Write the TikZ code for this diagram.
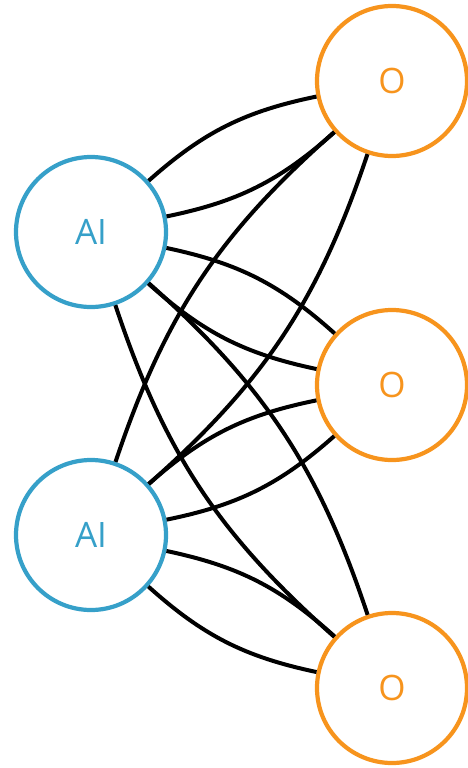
\documentclass[tikz,border=0pt]{standalone}
\usepackage{fontspec}
\setmainfont{Open Sans}
\definecolor{inblue}{RGB}{54,160,201}
\definecolor{outorange}{RGB}{247,148,29}
\begin{document}
\begin{tikzpicture}[x=1pt,y=-1pt,
  unit/.style={circle,minimum size=150pt,inner sep=0pt,line width=4.2pt,fill=white,
    font=\fontsize{35}{40}\selectfont},
  inunit/.style={unit,draw=inblue,text=inblue},
  outunit/.style={unit,draw=outorange,text=outorange},
  link/.style={line width=4pt,black}]
\useasboundingbox (0,0) rectangle (467,768);
% input layer
\node[inunit] (a1) at (91,232) {AI};
\node[inunit] (a2) at (91,535) {AI};
% output layer
\node[outunit] (o1) at (392,81) {O};
\node[outunit] (o2) at (392,385) {O};
\node[outunit] (o3) at (392,688) {O};
% every input joined to every output by a pair of arcs
\begin{scope}[on background layer/.style={}]
\foreach \a in {a1,a2}{
  \foreach \o in {o1,o2,o3}{
    \draw[link] (\a) to[bend left=15] (\o);
    \draw[link] (\a) to[bend right=15] (\o);
  }
}
\end{scope}
\end{tikzpicture}
\end{document}
